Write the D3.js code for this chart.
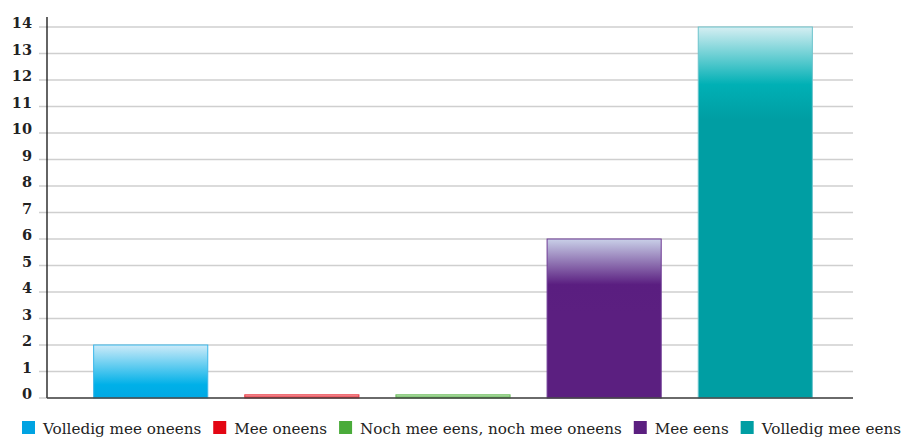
<!DOCTYPE html>
<html><head><meta charset="utf-8">
<script src="https://cdn.jsdelivr.net/npm/d3@7"></script>
<style>body{margin:0;background:#fff}svg{display:block}</style>
</head><body>
<svg id="c" width="901" height="438"></svg>
<script>
const categories = ["Volledig mee oneens","Mee oneens","Noch mee eens, noch mee oneens","Mee eens","Volledig mee eens"];
const values = [2, 0.12, 0.12, 6, 14];
const yTicks = [0,1,2,3,4,5,6,7,8,9,10,11,12,13,14];
const colors = ["#00a3e2","#e30613","#4aab3a","#5b1f80","#009ea3"];
const topColors = ["#cdebf9","#f8c9cc","#d5ecd0","#c9d0e8","#d5eef2"];
const midColors = ["#00b0e8","#e8101e","#52b542","#5a1e80","#00b0b5"];
const strokeColors = ["#3ab7ea","#e8333d","#65b955","#6e3a95","#6cc3cc"];
const fadeLen = [40, 3, 3, 46, 58];

const svg = d3.select("#c");
const font = "DejaVu Serif";
const x0 = 47, x1 = 853, yTop = 27, yBot = 398;
const y = d3.scaleLinear().domain([0,14]).range([yBot, yTop]);
const x = d3.scaleBand().domain(categories).range([75.5, 830.5]).paddingInner(0.245).paddingOuter(0.12);

const defs = svg.append("defs");
categories.forEach((c,i)=>{
  const top = y(values[i]);
  const g = defs.append("linearGradient").attr("id","g"+i).attr("gradientUnits","userSpaceOnUse")
    .attr("x1",0).attr("y1",top).attr("x2",0).attr("y2",top+fadeLen[i]*1.6);
  g.append("stop").attr("offset","0%").attr("stop-color",topColors[i]);
  g.append("stop").attr("offset","62%").attr("stop-color",midColors[i]);
  g.append("stop").attr("offset","100%").attr("stop-color",colors[i]);
});

// grid
svg.append("g").selectAll("line").data(yTicks).join("line")
  .attr("x1",39).attr("x2",x1).attr("y1",d=>y(d)).attr("y2",d=>y(d))
  .attr("stroke","#cfcfcf").attr("stroke-width",1.5);

// y labels
svg.append("g").selectAll("text").data(yTicks).join("text")
  .attr("x",32).attr("y",d=>y(d)+1).attr("text-anchor","end")
  .style("font-family",font).style("font-weight","bold").style("font-size","14.5px").attr("fill","#222")
  .text(d=>d);

// bars
svg.append("g").selectAll("rect").data(categories).join("rect")
  .attr("x",d=>x(d)).attr("width",x.bandwidth())
  .attr("y",(d,i)=>y(values[i])).attr("height",(d,i)=>yBot-y(values[i]))
  .attr("fill",(d,i)=>"url(#g"+i+")").attr("stroke",(d,i)=>strokeColors[i]).attr("stroke-width",1);

// axes lines
svg.append("line").attr("x1",x0).attr("x2",x0).attr("y1",17).attr("y2",yBot).attr("stroke","#111").attr("stroke-width",1.3);
svg.append("line").attr("x1",x0).attr("x2",x1).attr("y1",yBot).attr("y2",yBot).attr("stroke","#444").attr("stroke-width",1.5);

// legend
const lg = svg.append("g");
let lx = 22;
categories.forEach((c,i)=>{
  lg.append("rect").attr("x",lx).attr("y",421).attr("width",13).attr("height",13).attr("fill",colors[i]);
  const t = lg.append("text").attr("x",lx+21).attr("y",434).style("font-family",font).style("font-size","15.2px").attr("fill","#222").text(c);
  lx += 21 + t.node().getComputedTextLength() + 12;
});
</script>
</body></html>
